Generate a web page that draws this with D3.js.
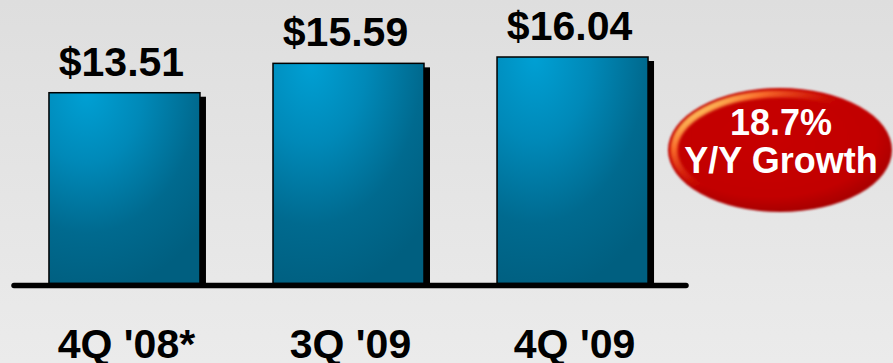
<!DOCTYPE html>
<html>
<head>
<meta charset="utf-8">
<script src="https://cdn.jsdelivr.net/npm/d3@7"></script>
<style>
  html, body { margin: 0; padding: 0; }
  body { width: 893px; height: 363px; overflow: hidden; }
  svg { display: block; }
</style>
</head>
<body>
<svg id="chart" width="893" height="363"></svg>
<script>
// Quarterly values (USD)
const categories = ["4Q '08*", "3Q '09", "4Q '09"];
const values = [13.51, 15.59, 16.04];
const valueLabels = ["$13.51", "$15.59", "$16.04"];
const badgeLines = ["18.7%", "Y/Y Growth"];

const W = 893, H = 363;
const baseY = 283.5;
const svg = d3.select("#chart");
const defs = svg.append("defs");

// background
const bg = defs.append("linearGradient").attr("id", "bg")
  .attr("x1", 0).attr("y1", 0).attr("x2", 0).attr("y2", 1);
bg.append("stop").attr("offset", 0).attr("stop-color", "#dedede");
bg.append("stop").attr("offset", 1).attr("stop-color", "#ebebeb");
svg.append("rect").attr("width", W).attr("height", H).attr("fill", "url(#bg)");

// bar fill
const bf = defs.append("radialGradient").attr("id", "barFill")
  .attr("cx", 0.25).attr("cy", 0.0).attr("r", 1.05)
  .attr("fx", 0.25).attr("fy", 0.0);
bf.append("stop").attr("offset", 0).attr("stop-color", "#00a0d4");
bf.append("stop").attr("offset", 0.35).attr("stop-color", "#0089b8");
bf.append("stop").attr("offset", 0.7).attr("stop-color", "#006a8f");
bf.append("stop").attr("offset", 1).attr("stop-color", "#005f80");

const x = d3.scaleBand().domain(categories).range([12, 685])
  .paddingInner(0.326).paddingOuter(0.165);
const y = d3.scaleLinear().domain([0, 16.04]).range([baseY, 57]);

const g = svg.append("g");
const bars = g.selectAll("g.bar").data(categories).join("g").attr("class", "bar");

// drop shadow
bars.append("rect")
  .attr("x", d => x(d) + 6)
  .attr("y", (d, i) => y(values[i]) + 4)
  .attr("width", x.bandwidth())
  .attr("height", (d, i) => baseY - y(values[i]) - 4)
  .attr("fill", "#000");

bars.append("rect")
  .attr("x", d => x(d))
  .attr("y", (d, i) => y(values[i]))
  .attr("width", x.bandwidth())
  .attr("height", (d, i) => baseY - y(values[i]))
  .attr("fill", "url(#barFill)")
  .attr("stroke", "#000")
  .attr("stroke-width", 1.5);

// value labels
bars.append("text")
  .attr("x", d => x(d) + x.bandwidth() / 2 - 3)
  .attr("y", (d, i) => y(values[i]) - 17)
  .attr("text-anchor", "middle")
  .attr("font-family", "'Liberation Sans', Arial, sans-serif")
  .attr("font-weight", "bold")
  .attr("font-size", 41)
  .attr("fill", "#000")
  .text((d, i) => valueLabels[i]);

// baseline
g.append("line")
  .attr("x1", 14).attr("x2", 686)
  .attr("y1", baseY + 2).attr("y2", baseY + 2)
  .attr("stroke", "#000").attr("stroke-width", 5.5)
  .attr("stroke-linecap", "round");

// category labels
g.selectAll("text.cat").data(categories).join("text")
  .attr("class", "cat")
  .attr("x", d => x(d) + x.bandwidth() / 2 + 2)
  .attr("y", 358)
  .attr("text-anchor", "middle")
  .attr("font-family", "'Liberation Sans', Arial, sans-serif")
  .attr("font-weight", "bold")
  .attr("font-size", 41)
  .attr("fill", "#000")
  .text(d => d);

// growth badge
const cx = 780, cy = 150, rx = 112, ry = 62;
const rf = defs.append("radialGradient").attr("id", "badgeFill")
  .attr("cx", 0.45).attr("cy", 0.4).attr("r", 0.6);
rf.append("stop").attr("offset", 0).attr("stop-color", "#c70000");
rf.append("stop").attr("offset", 0.8).attr("stop-color", "#c20000");
rf.append("stop").attr("offset", 1).attr("stop-color", "#a80000");

const hl = defs.append("linearGradient").attr("id", "badgeHl")
  .attr("x1", 0).attr("y1", 0.2).attr("x2", 0.7).attr("y2", 0.8);
hl.append("stop").attr("offset", 0).attr("stop-color", "#ffe070").attr("stop-opacity", 1);
hl.append("stop").attr("offset", 0.2).attr("stop-color", "#ff7a30").attr("stop-opacity", 0.9);
hl.append("stop").attr("offset", 0.45).attr("stop-color", "#e03010").attr("stop-opacity", 0.4);
hl.append("stop").attr("offset", 0.6).attr("stop-color", "#c00000").attr("stop-opacity", 0);

const blur = defs.append("filter").attr("id", "soft")
  .attr("x", -0.1).attr("y", -0.1).attr("width", 1.2).attr("height", 1.2);
blur.append("feGaussianBlur").attr("stdDeviation", 1.6);
const edge = defs.append("filter").attr("id", "edge")
  .attr("x", -0.1).attr("y", -0.1).attr("width", 1.2).attr("height", 1.2);
edge.append("feGaussianBlur").attr("stdDeviation", 0.8);

const badge = svg.append("g");
badge.append("ellipse")
  .attr("cx", cx).attr("cy", cy).attr("rx", rx).attr("ry", ry)
  .attr("fill", "url(#badgeFill)").attr("filter", "url(#edge)");
badge.append("ellipse")
  .attr("cx", cx).attr("cy", cy).attr("rx", rx - 6).attr("ry", ry - 6)
  .attr("fill", "none").attr("stroke", "url(#badgeHl)").attr("stroke-width", 7)
  .attr("filter", "url(#soft)");

badge.selectAll("text").data(badgeLines).join("text")
  .attr("x", cx + 1)
  .attr("y", (d, i) => i === 0 ? 135 : 173)
  .attr("text-anchor", "middle")
  .attr("font-family", "'Liberation Sans', Arial, sans-serif")
  .attr("font-weight", "bold")
  .attr("font-size", 36)
  .attr("fill", "#fff")
  .text(d => d);
</script>
</body>
</html>
